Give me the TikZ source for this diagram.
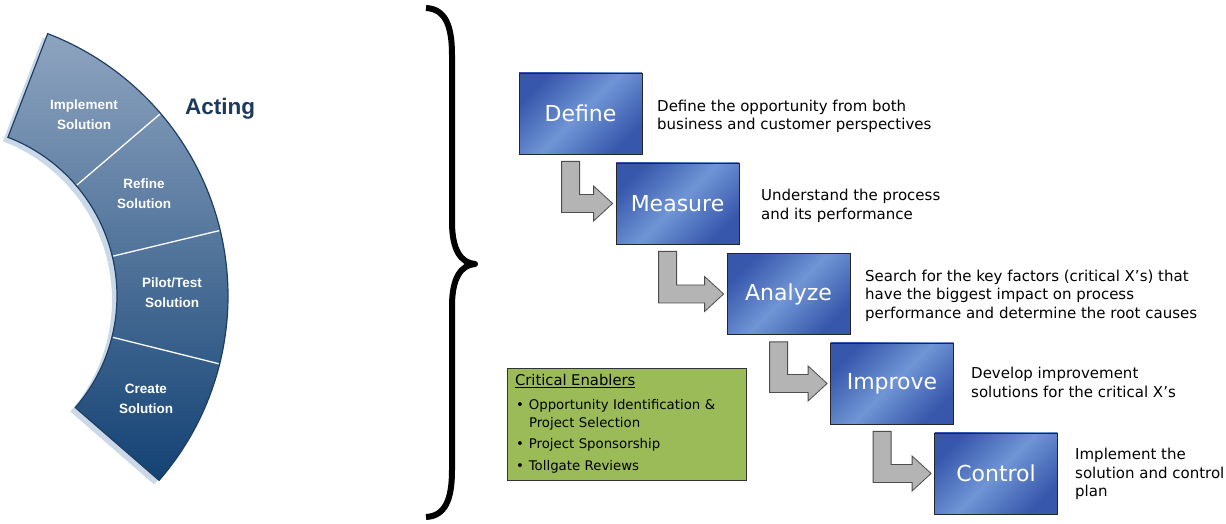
\documentclass[tikz,border=0pt]{standalone}
\usepackage{fontspec}
\setmainfont{DejaVu Sans}
\newfontfamily\arcfont{Liberation Sans}
\usetikzlibrary{calc}
\definecolor{boxdark}{HTML}{3757AC}
\definecolor{boxlight}{HTML}{7095D5}
\definecolor{arrowgray}{HTML}{B4B4B4}
\definecolor{arrowline}{HTML}{4D4D4D}
\definecolor{enablergreen}{HTML}{9BBB59}
\definecolor{arctop}{HTML}{8EA4C0}
\definecolor{arcbottom}{HTML}{134274}
\definecolor{arcline}{HTML}{1D3F63}
\definecolor{arcshadow}{HTML}{CAD8E7}
\definecolor{actingblue}{HTML}{1C3A5E}
\newcommand\Larrow[2]{%
  \path[larrow] let \p1=(#1.south west), \p2=(#2.west) in
    (\x1+43,\y1-7) -- (\x1+61,\y1-7) -- (\x1+61,\y2+9) -- (\x2-22,\y2+9)
    -- (\x2-22,\y2+17.5) -- (\x2-3,\y2) -- (\x2-22,\y2-17.5) -- (\x2-22,\y2-9)
    -- (\x1+43,\y2-9) -- cycle;}
\begin{document}
\begin{tikzpicture}[x=1pt,y=1pt,
  phasebox/.style={draw=black!85, line width=0.8pt, top color=boxdark, bottom color=boxdark,
    middle color=boxlight, shading angle=45, minimum width=123pt, minimum height=81pt,
    inner sep=0pt, text=white, font=\fontsize{22}{26}\selectfont},
  desc/.style={anchor=west, align=left, inner sep=0pt, font=\fontsize{15}{18.5}\selectfont},
  larrow/.style={fill=arrowgray, draw=arrowline, line width=0.8pt, line join=miter},
  arclabel/.style={text=white, align=center, inner sep=0pt,
    font=\arcfont\bfseries\fontsize{13.5}{20}\selectfont},
  enabler/.style={draw=black!80, line width=0.8pt, fill=enablergreen, minimum width=239pt,
    minimum height=112pt, text width=223pt, inner xsep=8pt, align=left,
    font=\fontsize{13.3}{17.5}\selectfont},
]
\useasboundingbox (0,0) rectangle (1226,524);
\fill[white] (0,0) rectangle (1226,524);

% arc band shadow
\fill[arcshadow] ([shift={(-58,224)}]69:281pt) arc[start angle=69,end angle=-41,radius=281pt]
  -- ([shift={(-58,224)}]-41:170pt) arc[start angle=-41,end angle=69,radius=170pt] -- cycle;
% arc band
\path[draw=arcline, line width=1.2pt, top color=arctop, bottom color=arcbottom]
  ([shift={(-53,228)}]69:281pt) arc[start angle=69,end angle=-41,radius=281pt]
  -- ([shift={(-53,228)}]-41:170pt) arc[start angle=-41,end angle=69,radius=170pt] -- cycle;
\foreach \a in {40.5,13.5,-14}
  \draw[white, line width=1.3pt] ([shift={(-53,228)}]\a:171pt) -- ([shift={(-53,228)}]\a:280pt);

\node[arclabel] (l1) at (84,409) {Implement\\Solution};
\node[arclabel] (l2) at (144,330) {Refine\\Solution};
\node[arclabel] (l3) at (172,231) {Pilot/Test\\Solution};
\node[arclabel] (l4) at (146,125) {Create\\Solution};
\node[text=actingblue, font=\arcfont\bfseries\fontsize{22.5}{26}\selectfont, inner sep=0pt] (acting) at (220,415) {Acting};

% brace
\draw[line width=6pt, line join=round, line cap=butt]
  (426,516) .. controls (445,515) and (452,499) .. (452,469) -- (452,302)
  .. controls (452,274) and (461,261) .. (475,260)
  .. controls (461,259) and (452,246) .. (452,218) -- (452,54)
  .. controls (452,24) and (445,8) .. (426,7);

% phase boxes
\node[phasebox] (def) at (580.5,410.5) {Define};
\node[phasebox] (mea) at (677.5,320.5) {Measure};
\node[phasebox] (ana) at (788.5,230) {Analyze};
\node[phasebox] (imp) at (892,140.5) {Improve};
\node[phasebox] (con) at (996,50.5) {Control};

\Larrow{def}{mea}
\Larrow{mea}{ana}
\Larrow{ana}{imp}
\Larrow{imp}{con}

% descriptions
\node[desc] (ddef) at (657,407.5) {Define the opportunity from both\\business and customer perspectives};
\node[desc] (dmea) at (761,318) {Understand the process\\and its performance};
\node[desc] (dana) at (865,228.5) {Search for the key factors (critical X’s) that\\have the biggest impact on process\\performance and determine the root causes};
\node[desc] (dimp) at (971,141.5) {Develop improvement\\solutions for the critical X’s};
\node[desc] (dcon) at (1075,50) {Implement the\\solution and control\\plan};

% enablers
\node[enabler] (enab) at (626.5,100) {{\fontsize{14.8}{18}\selectfont\underline{Critical Enablers}}\\[6.5pt]
\hspace*{1pt}•\hspace{5pt}Opportunity Identification \&\\
\hspace*{14pt}Project Selection\\[4pt]
\hspace*{1pt}•\hspace{5pt}Project Sponsorship\\[4pt]
\hspace*{1pt}•\hspace{5pt}Tollgate Reviews};
\end{tikzpicture}
\end{document}
